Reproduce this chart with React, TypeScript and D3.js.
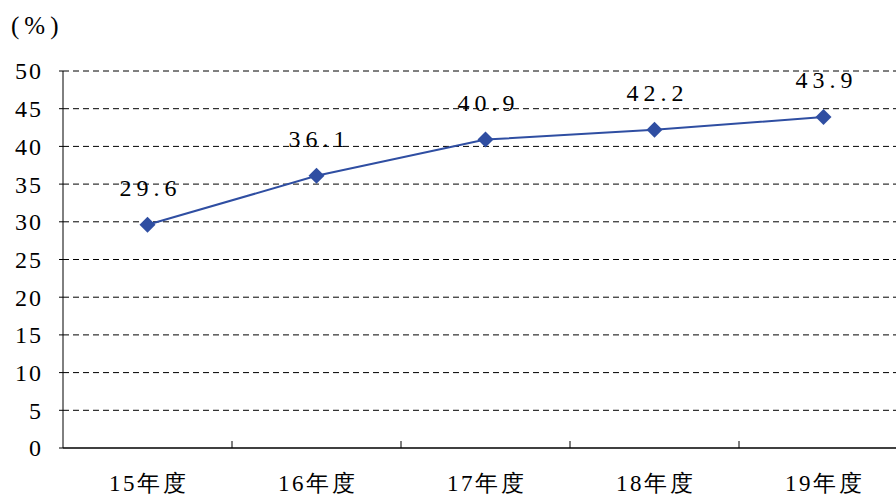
import React from "react";
import * as d3 from "d3";

const categories = ["15年度", "16年度", "17年度", "18年度", "19年度"];
const values = [29.6, 36.1, 40.9, 42.2, 43.9];
const yTicks = [0, 5, 10, 15, 20, 25, 30, 35, 40, 45, 50];

const W = 896;
const H = 495;
const left = 63;
const right = 908;
const top = 71;
const bottom = 448;
const font = "Liberation Serif";
const color = "#2F4EA2";

export default function App() {
  const x = d3.scaleBand<string>().domain(categories).range([left, right]);
  const y = d3.scaleLinear().domain([0, 50]).range([bottom, top]);
  const line = d3
    .line<number>()
    .x((_, i) => (x(categories[i]) as number) + x.bandwidth() / 2)
    .y((d) => y(d));
  const dsz = 8;
  return (
    <svg width={W} height={H} style={{ position: "absolute", left: 0, top: 0, background: "#fff" }}>
      <text x={11} y={34} fontFamily={font} fontSize={25} letterSpacing={5} fill="#000">(%)</text>
      {yTicks.map((t) => (
        <g key={t}>
          {t > 0 && (
            <line x1={left} x2={W} y1={y(t)} y2={y(t)} stroke="#000" strokeWidth={1} strokeDasharray="6 4" />
          )}
          <line x1={left - 4} x2={left} y1={y(t)} y2={y(t)} stroke="#000" strokeWidth={1} />
          <text x={43} y={y(t)} dy="0.35em" textAnchor="end" fontFamily={font} fontSize={24} letterSpacing={2} fill="#000">
            {t}
          </text>
        </g>
      ))}
      <line x1={left} x2={left} y1={top} y2={bottom} stroke="#000" strokeWidth={1} />
      <line x1={left} x2={W} y1={bottom} y2={bottom} stroke="#000" strokeWidth={1.5} />
      {categories.map((c, i) =>
        i > 0 ? (
          <line key={"t" + c} x1={x(c)} x2={x(c)} y1={bottom - 7} y2={bottom} stroke="#000" strokeWidth={1} />
        ) : null
      )}
      {categories.map((c) => (
        <text key={c} x={(x(c) as number) + x.bandwidth() / 2 + 1} y={491} textAnchor="middle" fontFamily={font} fontSize={23} letterSpacing={2.5} fill="#000">
          {c}
        </text>
      ))}
      <path d={line(values) || ""} fill="none" stroke={color} strokeWidth={2} />
      {values.map((v, i) => {
        const cx = (x(categories[i]) as number) + x.bandwidth() / 2;
        const cy = y(v);
        return (
          <g key={i}>
            <path d={`M${cx},${cy - dsz} L${cx + dsz},${cy} L${cx},${cy + dsz} L${cx - dsz},${cy} Z`} fill={color} />
            <text x={cx + 3} y={cy - 29} textAnchor="middle" fontFamily={font} fontSize={24} letterSpacing={5} fill="#000">
              {v.toFixed(1)}
            </text>
          </g>
        );
      })}
    </svg>
  );
}
